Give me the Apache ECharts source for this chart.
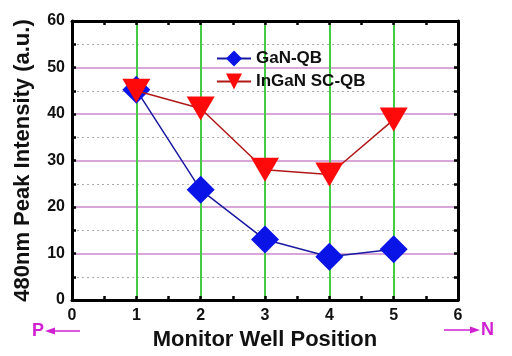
<!DOCTYPE html>
<html><head><meta charset="utf-8">
<script src="https://cdn.jsdelivr.net/npm/echarts@6/dist/echarts.min.js"></script>
<style>html,body{margin:0;padding:0;background:#fff}#c{width:512px;height:356px}</style>
</head><body><div id="c"></div>
<script>
const positions = [1, 2, 3, 4, 5];
const ganQB = [45.2, 23.7, 13.0, 9.3, 10.9];
const inganSCQB = [45.0, 41.2, 28.0, 27.0, 38.8];
const seriesNames = ['GaN-QB', 'InGaN SC-QB'];

const chart = echarts.init(document.getElementById('c'));
const font = 'Liberation Sans, Arial, sans-serif';
const axLine = { show: true, onZero: false, lineStyle: { color: '#000', width: 3 } };
const tick = (len) => ({ show: true, inside: true, length: len, lineStyle: { color: '#000', width: 2.5 } });
chart.setOption({
  animation: false,
  grid: { left: 72, top: 21, right: 54, bottom: 51 },
  legend: {
    orient: 'vertical', left: 211, top: 45, itemWidth: 34, itemHeight: 20, itemGap: 6,
    textStyle: { fontFamily: font, fontWeight: 'bold', fontSize: 17, color: '#111' },
    data: seriesNames
  },
  xAxis: [{
    type: 'value', min: 0, max: 6, interval: 1,
    name: 'Monitor Well Position', nameLocation: 'middle', nameGap: 29,
    nameTextStyle: { fontFamily: font, fontWeight: 'bold', fontSize: 22, color: '#111', verticalAlign: 'top' },
    axisLine: axLine,
    axisTick: tick(4),
    minorTick: { show: true, splitNumber: 2, length: 4, lineStyle: { color: '#000', width: 2.5 } },
    axisLabel: { fontFamily: font, fontWeight: 'bold', fontSize: 16, color: '#111', margin: 8 },
    splitLine: { show: true, lineStyle: { color: '#44cc44', width: 2 } },
    z: 3
  }, {
    type: 'value', min: 0, max: 6, interval: 0.5, position: 'top',
    axisLine: axLine, axisTick: tick(4),
    axisLabel: { show: false }, splitLine: { show: false }, z: 3
  }],
  yAxis: [{
    type: 'value', min: 0, max: 60, interval: 10,
    name: '480nm Peak Intensity (a.u.)', nameLocation: 'middle', nameGap: 38,
    nameTextStyle: { fontFamily: font, fontWeight: 'bold', fontSize: 22, color: '#111' },
    axisLine: axLine, axisTick: tick(4),
    minorTick: { show: true, splitNumber: 2, length: 4, lineStyle: { color: '#000', width: 2.5 } },
    axisLabel: { fontFamily: font, fontWeight: 'bold', fontSize: 16, color: '#111', margin: 7 },
    splitLine: { show: true, lineStyle: { color: '#cc88cc', width: 1.5 } },
    minorSplitLine: { show: true, lineStyle: { color: '#aaaaaa', width: 1, type: [2, 3] } },
    z: 3
  }, {
    type: 'value', min: 0, max: 60, interval: 5, position: 'right',
    axisLine: axLine, axisTick: tick(4),
    axisLabel: { show: false }, splitLine: { show: false }, z: 3
  }],
  series: [{
    name: seriesNames[0], type: 'line', xAxisIndex: 0, yAxisIndex: 0,
    data: positions.map((p, i) => [p, ganQB[i]]),
    symbol: 'diamond', symbolSize: [28, 28],
    lineStyle: { color: '#1a1aa0', width: 1.5 },
    itemStyle: { color: '#0a14e6' }, z: 4
  }, {
    name: seriesNames[1], type: 'line', xAxisIndex: 0, yAxisIndex: 0,
    data: positions.map((p, i) => [p, inganSCQB[i]]),
    symbol: 'triangle', symbolRotate: 180, symbolSize: [28, 24],
    lineStyle: { color: '#b01818', width: 1.5 },
    itemStyle: { color: '#ff0a0a' }, z: 5
  }],
  graphic: [
    { type: 'text', left: 32, top: 322, style: { text: 'P', fill: '#d020d0', font: 'bold 18px ' + font } },
    { type: 'line', shape: { x1: 52, y1: 331, x2: 80, y2: 331 }, style: { stroke: '#d020d0', lineWidth: 1.5 } },
    { type: 'polygon', shape: { points: [[45, 331], [55, 327.5], [55, 334.5]] }, style: { fill: '#d020d0' } },
    { type: 'line', shape: { x1: 444, y1: 330, x2: 472, y2: 330 }, style: { stroke: '#d020d0', lineWidth: 1.5 } },
    { type: 'polygon', shape: { points: [[480, 330], [470, 326.5], [470, 333.5]] }, style: { fill: '#d020d0' } },
    { type: 'text', left: 481, top: 321, style: { text: 'N', fill: '#d020d0', font: 'bold 18px ' + font } }
  ]
});
</script></body></html>
